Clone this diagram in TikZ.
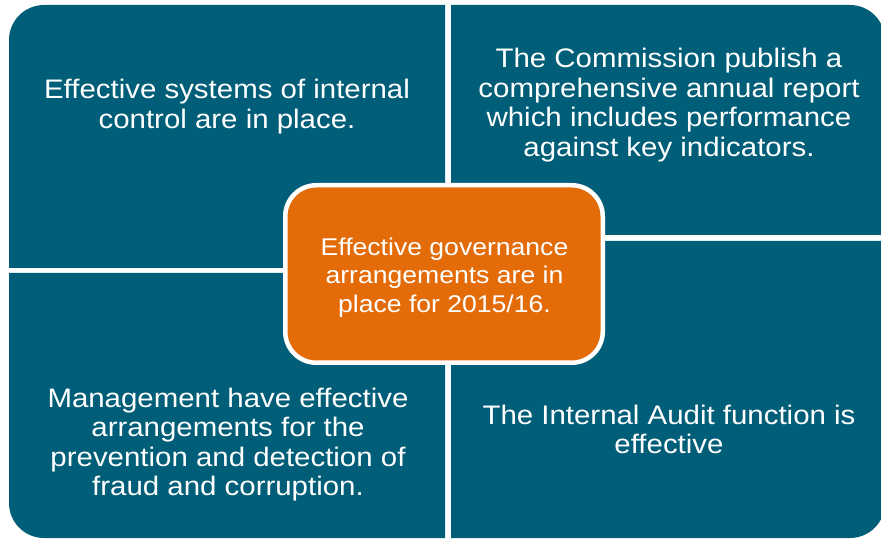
\documentclass[tikz,border=0pt]{standalone}
\usepackage{fontspec}
\setmainfont{Liberation Sans}[FakeStretch=1.098]
\definecolor{quadteal}{RGB}{1,94,120}
\definecolor{huborange}{RGB}{227,108,9}
\begin{document}
\begin{tikzpicture}[x=1pt,y=1pt,
  quad/.style={fill=quadteal},
  quadtext/.style={text=white,align=center,inner sep=0pt,
    font=\fontsize{26.8}{29.6}\selectfont},
  hubbox/.style={draw=white,line width=4.5pt,fill=huborange,
    rounded corners=31pt,minimum width=317.5pt,minimum height=177.5pt,inner sep=0pt},
  hubtext/.style={text=white,align=center,inner sep=0pt,
    font=\fontsize{24.2}{28.3}\selectfont}]
\useasboundingbox (0,0) rectangle (881,541);
\clip (0,0) rectangle (881,541);
% four quadrants, each rounded only at its outer corner
\fill[quad] (445,273) -- (9,273) -- (9,501) arc[start angle=180,end angle=90,radius=35] -- (445,536) -- cycle;
\fill[quad] (451,306) -- (451,536) -- (850,536) arc[start angle=90,end angle=0,radius=35] -- (885,306) -- cycle;
\fill[quad] (445,268) -- (445,3) -- (44,3) arc[start angle=270,end angle=180,radius=35] -- (9,268) -- cycle;
\fill[quad] (451,300) -- (885,300) -- (885,38) arc[start angle=0,end angle=-90,radius=35] -- (451,3) -- cycle;
% quadrant texts
\node[quadtext] (tl) at (227,434.4) {Effective systems of internal\\control are in place.};
\node[quadtext] (tr) at (669,435.9) {The Commission publish a\\comprehensive annual report\\which includes performance\\against key indicators.};
\node[quadtext] (bl) at (228,96.4) {Management have effective\\arrangements for the\\prevention and detection of\\fraud and corruption.};
\node[quadtext] (br) at (669,111.7) {The Internal Audit function is\\effective};
% central box
\node[hubbox] (hub) at (444,267) {};
\node[hubtext] (hubt) at (444.5,263.4) {Effective governance\\arrangements are in\\place for 2015/16.};
\end{tikzpicture}
\end{document}
